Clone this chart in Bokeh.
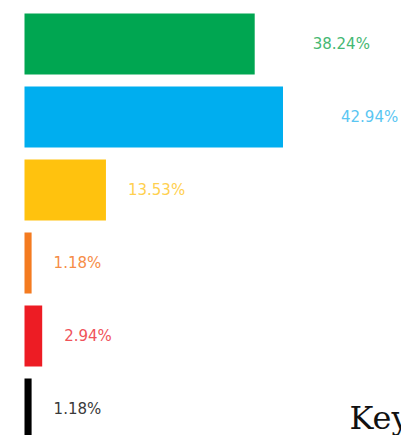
from bokeh.plotting import figure
from bokeh.models import Range1d, ColumnDataSource, Label
from bokeh.core.properties import value
from bokeh.embed import file_html
from bokeh.resources import INLINE

# data
categories = ["A", "B", "C", "D", "E", "F"]
percentages = [38.24, 42.94, 13.53, 1.18, 2.94, 1.18]
bar_colors = ["#00a651", "#00aeef", "#ffc20e", "#f47b20", "#ed1c24", "#000000"]
label_colors = ["#45b873", "#5ac6f2", "#ffd04f", "#f68d47", "#f0535a", "#3a3a3a"]
key_title = "Key"

W, H = 401, 435
px_per_unit = 6.02
left_pad = 24
pitch = 73.0
first_center = 43.5

positions = list(range(len(categories)))
labels = [f"{v:.2f}%" for v in percentages]
offsets = [58 if v > 20 else 22 for v in percentages]

src = ColumnDataSource(dict(
    cat=categories, y=positions, v=percentages, color=bar_colors,
    lcolor=label_colors, label=labels, off=offsets,
))

p = figure(
    width=W, height=H, output_backend="svg", toolbar_location=None,
    x_range=Range1d(-left_pad / px_per_unit, (W - left_pad) / px_per_unit),
    y_range=Range1d((H - first_center) / pitch, -first_center / pitch),
    min_border=0, min_border_left=0, min_border_right=0,
    min_border_top=0, min_border_bottom=0,
)
p.axis.visible = False
p.grid.visible = False
p.outline_line_color = None
p.background_fill_color = "white"
p.border_fill_color = "white"

p.hbar(y="y", left=0, right="v", height=61 / pitch, color="color",
       line_color=None, source=src)

p.text(x="v", y="y", text="label", x_offset="off", text_color="lcolor",
       text_font=value("DejaVu Sans"), text_font_size="15px",
       text_baseline="middle", text_align="left", source=src)

p.add_layout(Label(x=349, y=H - 417, x_units="screen", y_units="screen",
                   text=key_title, text_font="DejaVu Serif",
                   text_font_size="32px", text_color="#111111",
                   text_baseline="alphabetic"))

open("out.html", "w").write(file_html(p, INLINE))
